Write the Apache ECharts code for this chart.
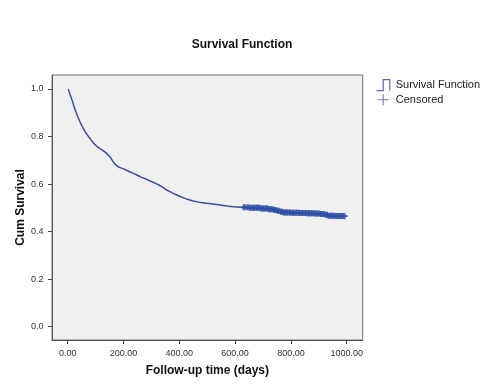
<!DOCTYPE html>
<html><head><meta charset="utf-8">
<script src="https://cdn.jsdelivr.net/npm/echarts@6/dist/echarts.min.js"></script>
<style>html,body{margin:0;padding:0;background:#fff}#c{width:484px;height:387px}</style>
</head><body><div id="c"></div>
<script>
// Kaplan-Meier curve points: time (days) and cumulative survival
var times = [2,4,6,9,12,15,18,21,24,27,30,33,36,40,44,48,52,56,60,65,70,75,80,86,92,98,104,110,116,122,128,134,140,146,152,158,164,170,176,182,190,200,210,220,235,250,265,283,300,315,331,345,355,370,385,403,420,435,450,470,498,520,546,570,594,620,650,689,720,737,750,760,770,800,830,857,880,904,920,934,960,990];
var survival = [1.0,0.993,0.985,0.975,0.965,0.955,0.945,0.933,0.922,0.912,0.902,0.893,0.884,0.873,0.862,0.852,0.843,0.835,0.826,0.816,0.807,0.800,0.792,0.782,0.773,0.765,0.759,0.753,0.749,0.745,0.740,0.734,0.729,0.721,0.714,0.703,0.692,0.683,0.677,0.672,0.668,0.664,0.659,0.653,0.645,0.637,0.628,0.620,0.611,0.603,0.594,0.583,0.575,0.566,0.557,0.548,0.540,0.534,0.529,0.524,0.519,0.516,0.512,0.508,0.505,0.502,0.500,0.497,0.494,0.491,0.488,0.484,0.480,0.479,0.478,0.477,0.476,0.474,0.471,0.467,0.466,0.465];
// censored observation times (days)
var censoredTimes = [630,634,641,647,652,655,659,664,667,670,675,678,681,686,688,692,697,699,703,706,711,714,717,722,724,728,731,736,739,742,747,751,754,758,763,766,769,774,777,780,785,787,791,796,798,802,807,809,813,818,820,824,829,831,835,840,842,846,851,853,857,862,864,868,873,875,879,884,886,890,895,897,901,906,908,912,917,919,923,928,930,934,939,941,945,950,952,956,961,963,967,972,974,978,983,985,989,993];
var xTicks = [0,200,400,600,800,1000];
var yTicks = [0,0.2,0.4,0.6,0.8,1.0];

function survAt(t){ var s = survival[0]; for (var i=0;i<times.length;i++){ if (times[i] <= t) s = survival[i]; } return s; }
var kmData = times.map(function(t,i){ return [t, survival[i]]; });
var cenData = censoredTimes.map(function(t){ return [t, survAt(t)]; });

var FONT = 'Liberation Sans, Arial, sans-serif';
var plusPath = 'path://M3.5,0h3v10h-3z M0,3.5h10v3h-10z';
var plusLegend = 'path://M4.5,0h1v10h-1z M0,4.5h10v1h-10z';
var stepPath = 'path://M0,10 L6,10 L6,0 L12,0 L12,10';

var chart = echarts.init(document.getElementById('c'), null, {renderer:'canvas'});
chart.setOption({
  backgroundColor: '#ffffff',
  animation: false,
  title: { text: 'Survival Function', left: 'center', top: 34, textStyle: { fontFamily: FONT, fontSize: 12, fontWeight: 'bold', color: '#111' } },
  legend: {
    orient: 'vertical', left: 371, top: 74, itemWidth: 15, itemHeight: 11, itemGap: 3,
    textStyle: { fontFamily: FONT, fontSize: 11, color: '#222' },
    data: [
      { name: 'Survival Function', icon: stepPath, itemStyle: { color: 'transparent', borderColor: '#5868b8', borderWidth: 1.2 } },
      { name: 'Censored', icon: plusLegend, itemStyle: { color: '#4a5fb5', borderWidth: 0 } }
    ]
  },
  grid: { left: 52, right: 121.3, top: 75, bottom: 47, show: true, backgroundColor: '#f0f0f0', borderColor: '#707070', borderWidth: 1 },
  xAxis: {
    type: 'value', min: -56.3, max: 1057.3,
    name: 'Follow-up time (days)', nameLocation: 'middle', nameGap: 25, nameMoveOverlap: false,
    nameTextStyle: { fontFamily: FONT, fontSize: 12, fontWeight: 'bold', color: '#111' },
    axisLine: { show: true, onZero: false, lineStyle: { color: '#555', width: 1 } }, splitLine: { show: false },
    axisTick: { show: true, length: 4, customValues: xTicks, lineStyle: { color: '#444', width: 1 } },
    axisLabel: { margin: 9, customValues: xTicks, fontFamily: FONT, fontSize: 9, color: '#333', formatter: function(v){ return v.toFixed(2); } }
  },
  yAxis: {
    type: 'value', min: -0.056, max: 1.0589,
    name: 'Cum Survival', nameLocation: 'middle', nameGap: 25, nameMoveOverlap: false,
    nameTextStyle: { fontFamily: FONT, fontSize: 12, fontWeight: 'bold', color: '#111' },
    axisLine: { show: true, onZero: false, lineStyle: { color: '#555', width: 1 } }, splitLine: { show: false },
    axisTick: { show: true, length: 4, customValues: yTicks, lineStyle: { color: '#444', width: 1 } },
    axisLabel: { margin: 8.5, customValues: yTicks, fontFamily: FONT, fontSize: 9, color: '#333', formatter: function(v){ return v.toFixed(1); } }
  },
  series: [
    { name: 'Survival Function', type: 'line', data: kmData, showSymbol: false, symbol: 'none', z: 3,
      lineStyle: { color: '#3c4c9e', width: 1.5 }, itemStyle: { color: '#3c4c9e' } },
    { name: 'Censored', type: 'scatter', data: cenData, symbol: plusPath, symbolSize: 6, z: 4,
      itemStyle: { color: '#3050a8' } }
  ]
});
</script></body></html>
